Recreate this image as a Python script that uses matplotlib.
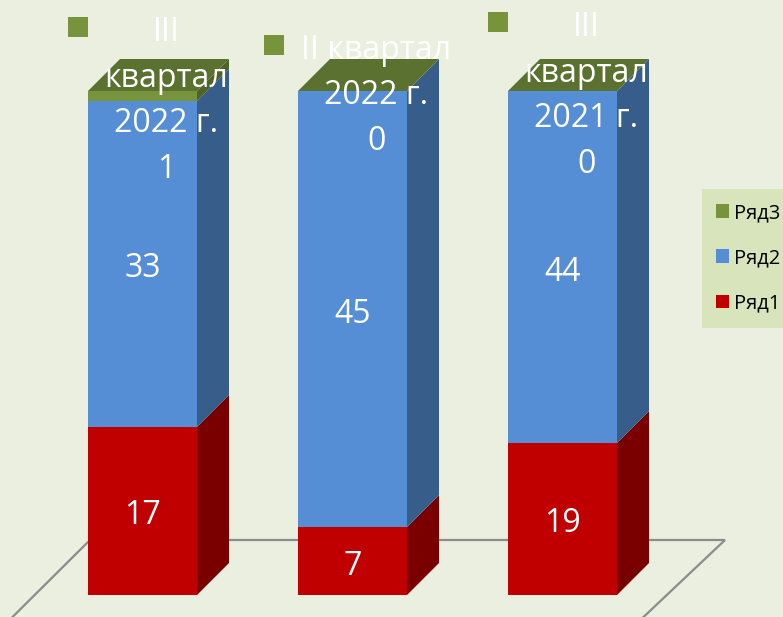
import textwrap
import matplotlib
matplotlib.use("Agg")
import matplotlib.pyplot as plt
from matplotlib.patches import Polygon, Rectangle, Patch

plt.rcParams['font.family'] = ['Open Sans', 'DejaVu Sans']

# ---- data ----
categories = ["III квартал 2022 г.", "II квартал 2022 г.", "III квартал 2021 г."]
series_names = ["Ряд1", "Ряд2", "Ряд3"]
row1 = [17, 7, 19]
row2 = [33, 45, 44]
row3 = [1, 0, 0]

# ---- style ----
front_colors = ["#C00000", "#558ED5", "#77933C"]
side_colors = ["#7A0000", "#375D8B", "#4F6228"]
top_color = "#5A7130"
bg = "#EBEFDF"

W, H = 783, 617
fig = plt.figure(figsize=(W / 100, H / 100), dpi=100, facecolor=bg)
ax = fig.add_axes([0, 0, 1, 1])
ax.set_facecolor(bg)
ax.axis("off")

# pixel-based scale setup (category units horizontally, percent vertically)
px_per_cat = 210.0
px_per_pct = 5.04
x0_px = 142.5
base_px = 595.0
ax.set_xlim(-x0_px / px_per_cat, (W - x0_px) / px_per_cat)
ax.set_ylim(-(H - base_px) / px_per_pct, base_px / px_per_pct)

bar_w = 109 / px_per_cat
ddx = 32 / px_per_cat
ddy = 32 / px_per_pct

# floor outline
fl_back_y = (base_px - 540) / px_per_pct
fl_front_y = (base_px - 617.5) / px_per_pct
floor_x = [(12 - x0_px) / px_per_cat, (90 - x0_px) / px_per_cat,
           (725 - x0_px) / px_per_cat, (643 - x0_px) / px_per_cat]
ax.plot(floor_x, [fl_front_y, fl_back_y, fl_back_y, fl_front_y],
        color="#8C8C8C", lw=1.6, zorder=1, solid_joinstyle="miter")

series = [row1, row2, row3]
fs = 23
label_dx = 24 / px_per_cat
label_dy = -5 / px_per_pct

key_requests = []
for i, cat in enumerate(categories):
    total = sum(s[i] for s in series)
    cum = 0.0
    for j, s in enumerate(series):
        pct = s[i] / total * 100.0
        b, t = cum, cum + pct
        xl, xr = i - bar_w / 2, i + bar_w / 2
        ax.add_patch(Rectangle((xl, b), bar_w, pct, facecolor=front_colors[j],
                               edgecolor="none", zorder=3 + i))
        ax.add_patch(Polygon([(xr, b), (xr + ddx, b + ddy), (xr + ddx, t + ddy), (xr, t)],
                             closed=True, facecolor=side_colors[j], edgecolor="none",
                             zorder=3 + i))
        mid = (b + t) / 2
        if j < 2:
            ax.text(i, mid + label_dy, str(s[i]), color="white", fontsize=fs, ha="center",
                    va="center", zorder=20)
        else:
            lbl = "\n".join(textwrap.wrap(cat, 10)) + "\n" + str(s[i])
            txt = ax.text(i + label_dx, mid + label_dy, lbl, color="white", fontsize=fs,
                          ha="center", va="center", linespacing=1.5, zorder=20)
            key_requests.append(txt)
        cum = t
    # top face
    xl, xr = i - bar_w / 2, i + bar_w / 2
    ax.add_patch(Polygon([(xl, 100), (xr, 100), (xr + ddx, 100 + ddy), (xl + ddx, 100 + ddy)],
                         closed=True, facecolor=top_color, edgecolor="none", zorder=3 + i))

# legend keys next to the Ряд3 labels
fig.canvas.draw()
renderer = fig.canvas.get_renderer()
for txt in key_requests:
    bb = txt.get_window_extent(renderer)
    nlines = txt.get_text().count("\n") + 1
    line_h = bb.height / nlines
    key_px = 20
    kx1 = bb.x0 - 17
    kyc = bb.y1 - line_h / 2 + 10
    fig.patches.append(Rectangle(((kx1 - key_px) / W, (kyc - key_px / 2) / H),
                                 key_px / W, key_px / H, transform=fig.transFigure,
                                 facecolor=front_colors[2], edgecolor="none", zorder=30))

handles = [Patch(facecolor=front_colors[k], edgecolor="none") for k in (2, 1, 0)]
labels = [series_names[k] for k in (2, 1, 0)]
leg = fig.legend(handles, labels, loc="upper left",
                 bbox_to_anchor=(702 / W, 1 - 189 / H), fontsize=14.5,
                 frameon=True, fancybox=False, facecolor="#D8E4BC", edgecolor="none",
                 framealpha=1, handlelength=0.65, handleheight=0.65, handletextpad=0.25,
                 labelspacing=1.25, borderpad=0.7, borderaxespad=0)

fig.savefig("out.png", dpi=100, facecolor=bg)
